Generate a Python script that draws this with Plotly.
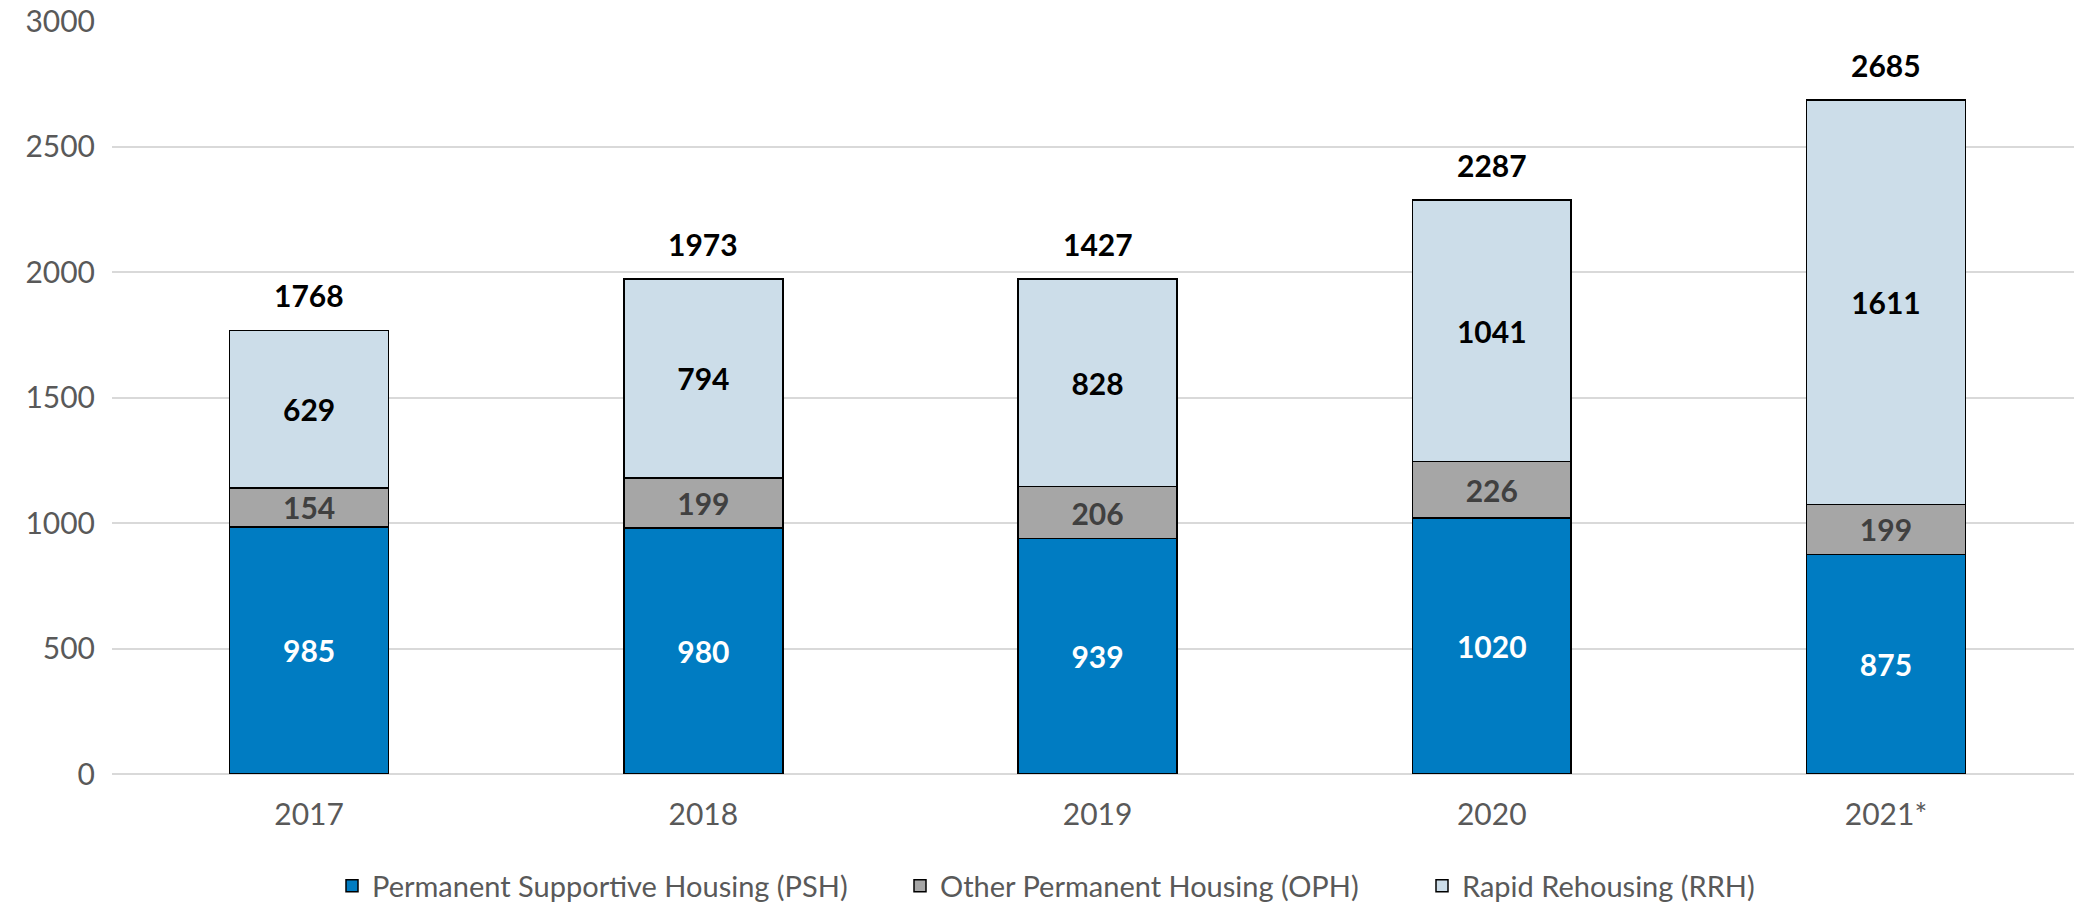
import plotly.graph_objects as go

# ---- data ----
years = ["2017", "2018", "2019", "2020", "2021*"]
psh = [985, 980, 939, 1020, 875]
oph = [154, 199, 206, 226, 199]
rrh = [629, 794, 828, 1041, 1611]
total_labels = ["1768", "1973", "1427", "2287", "2685"]
y_ticks = [0, 500, 1000, 1500, 2000, 2500, 3000]

W, H = 2074, 907
FONT = "Lato"
FS = 30
GREY_TXT = "#595959"

series = [
    ("Permanent Supportive Housing (PSH)", psh, "#007CC2", "#FFFFFF", "legend"),
    ("Other Permanent Housing (OPH)", oph, "#A6A6A6", "#404040", "legend2"),
    ("Rapid Rehousing (RRH)", rrh, "#CCDDE9", "#000000", "legend3"),
]

fig = go.Figure()
for name, vals, col, tcol, lg in series:
    fig.add_trace(go.Bar(
        x=years, y=vals, name=name,
        marker=dict(color=col, line=dict(color="#000000", width=1.5)),
        text=vals, texttemplate="<b>%{y}</b>",
        textposition="inside", insidetextanchor="middle", textangle=0,
        constraintext="none",
        textfont=dict(family=FONT, size=FS, color=tcol),
        legend=lg, hoverinfo="skip",
    ))

totals = [a + b + c for a, b, c in zip(psh, oph, rrh)]
for i, (t, lab) in enumerate(zip(totals, total_labels)):
    fig.add_annotation(x=i, y=t, xref="x", yref="y", text="<b>%s</b>" % lab,
                       showarrow=False, yanchor="middle", yshift=35,
                       font=dict(family=FONT, size=FS, color="#000000"))

legend_common = dict(orientation="h", yanchor="middle", y=(H - 886) / H,
                     xanchor="left",
                     font=dict(family=FONT, size=29, color=GREY_TXT),
                     bgcolor="rgba(0,0,0,0)", borderwidth=0)

fig.update_layout(
    width=W, height=H,
    margin=dict(l=0, r=0, t=0, b=0, autoexpand=False),
    paper_bgcolor="white", plot_bgcolor="white",
    showlegend=True,
    barmode="stack", bargap=0.597,
    uniformtext=dict(minsize=FS, mode="show"),
    xaxis=dict(domain=[112 / W, 1], range=[-0.5, 4.477],
               type="category",
               showgrid=False, showline=False, ticks="",
               tickfont=dict(family=FONT, size=FS, color=GREY_TXT),
               ticklabelstandoff=20),
    yaxis=dict(domain=[(H - 774) / H, (H - 21) / H], range=[0, 3000.5],
               tickvals=y_ticks, showgrid=True, gridcolor="#D9D9D9", gridwidth=2,
               zeroline=True, zerolinecolor="#D9D9D9", zerolinewidth=2,
               showline=False, ticks="", ticklabeloverflow="allow",
               tickfont=dict(family=FONT, size=FS, color=GREY_TXT),
               ticklabelstandoff=16),
    legend=dict(x=(372 - 40) / W, **legend_common),
    legend2=dict(x=(940 - 40) / W, **legend_common),
    legend3=dict(x=(1462 - 40) / W, **legend_common),
)

fig.write_html("out.html", config={"displayModeBar": False},
               post_script="document.body.style.margin='0';document.body.style.overflow='hidden';")
